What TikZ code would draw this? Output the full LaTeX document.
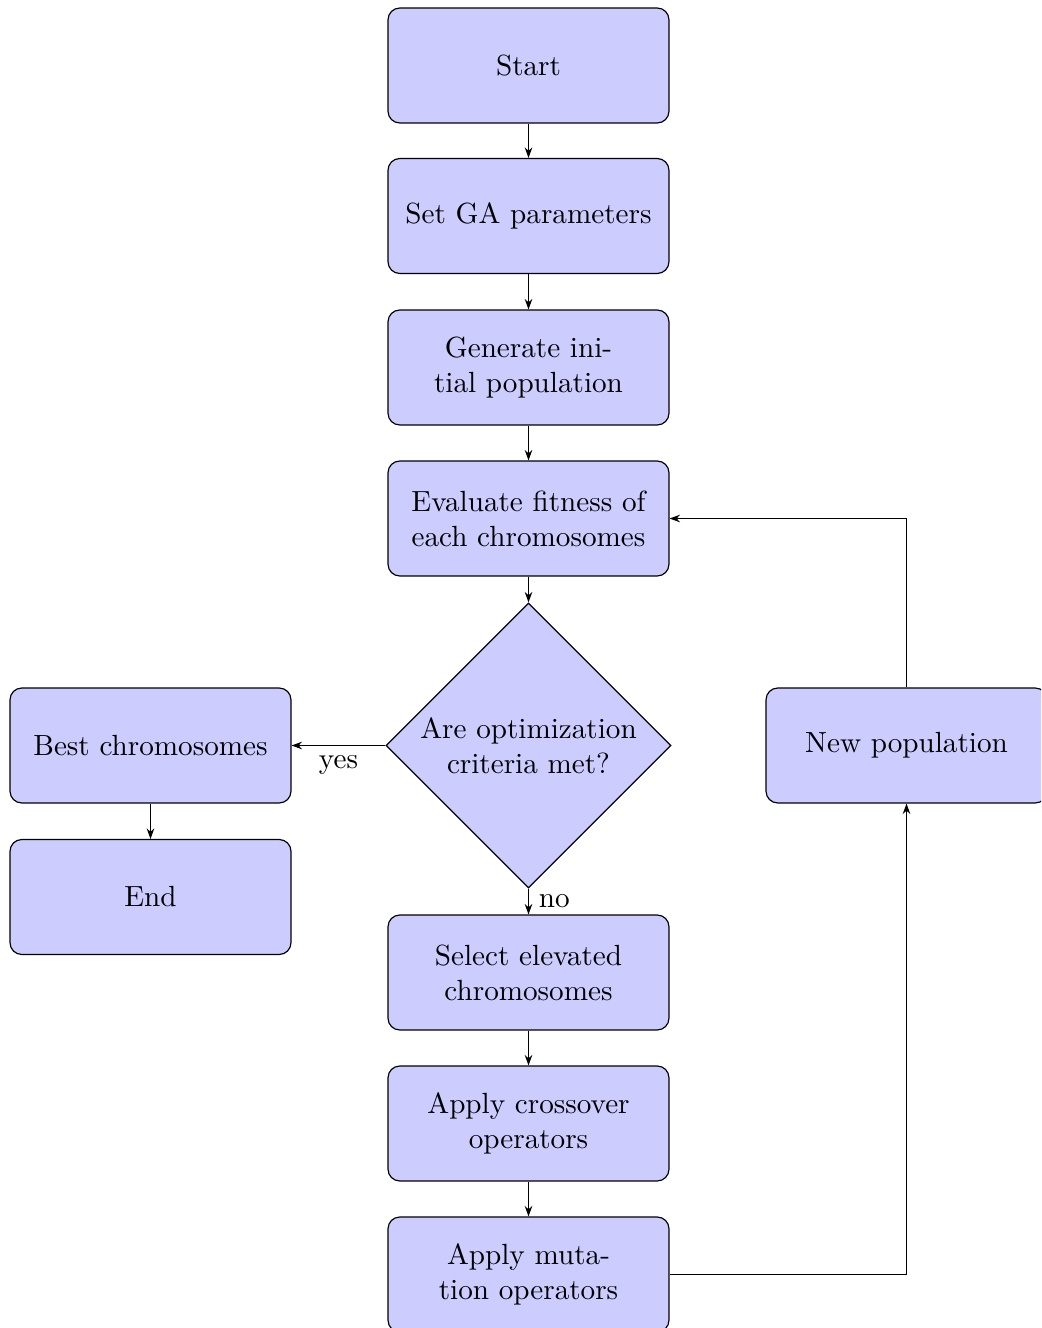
\documentclass[tikz,border=0pt]{standalone}
\usetikzlibrary{shapes.geometric,arrows.meta}
\begin{document}
\begin{tikzpicture}[x=0.3428pt,y=-0.3428pt,
  block/.style={rectangle, draw, fill=blue!20, rounded corners, align=center,
    minimum width=96.3pt, minimum height=39.4pt, inner sep=0pt},
  decision/.style={diamond, draw, fill=blue!20, align=center,
    minimum width=97.7pt, minimum height=97.7pt, inner sep=0pt},
  link/.style={draw, -{Stealth[length=3.6pt,width=2.6pt]}}]
\clip (0,0) rectangle (1041,1328);
\useasboundingbox (0,0) rectangle (1041,1328);

% main column
\node[block] (start)  at (528.5,65.5)   {Start};
\node[block] (params) at (528.5,216)    {Set GA parameters};
\node[block] (init)   at (528.5,367.5)  {Generate ini-\\tial population};
\node[block] (eval)   at (528.5,518.5)  {Evaluate fitness of\\each chromosomes};
\node[decision] (dec) at (528.5,745.5)  {Are optimization\\criteria met?};
\node[block] (select) at (528.5,972.5)  {Select elevated\\chromosomes};
\node[block] (cross)  at (528.5,1123.5) {Apply crossover\\operators};
\node[block] (mut)    at (528.5,1274.5) {Apply muta-\\tion operators};

% side nodes
\node[block] (best)   at (150.5,745.5)  {Best chromosomes};
\node[block] (end)    at (150.5,897)    {End};
\node[block] (newpop) at (906.5,745.5)  {New population};

% connectors
\draw[link] (start) -- (params);
\draw[link] (params) -- (init);
\draw[link] (init) -- (eval);
\draw[link] (eval) -- (dec);
\draw[link] (dec.west) -- node[midway,below] {yes} (best);
\draw[link] (best) -- (end);
\draw[link] (dec.south) -- node[midway,right] {no} (select);
\draw[link] (select) -- (cross);
\draw[link] (cross) -- (mut);
\draw[link] (mut.east) -| (newpop.south);
\draw[link] (newpop.north) |- (eval.east);
\end{tikzpicture}
\end{document}
